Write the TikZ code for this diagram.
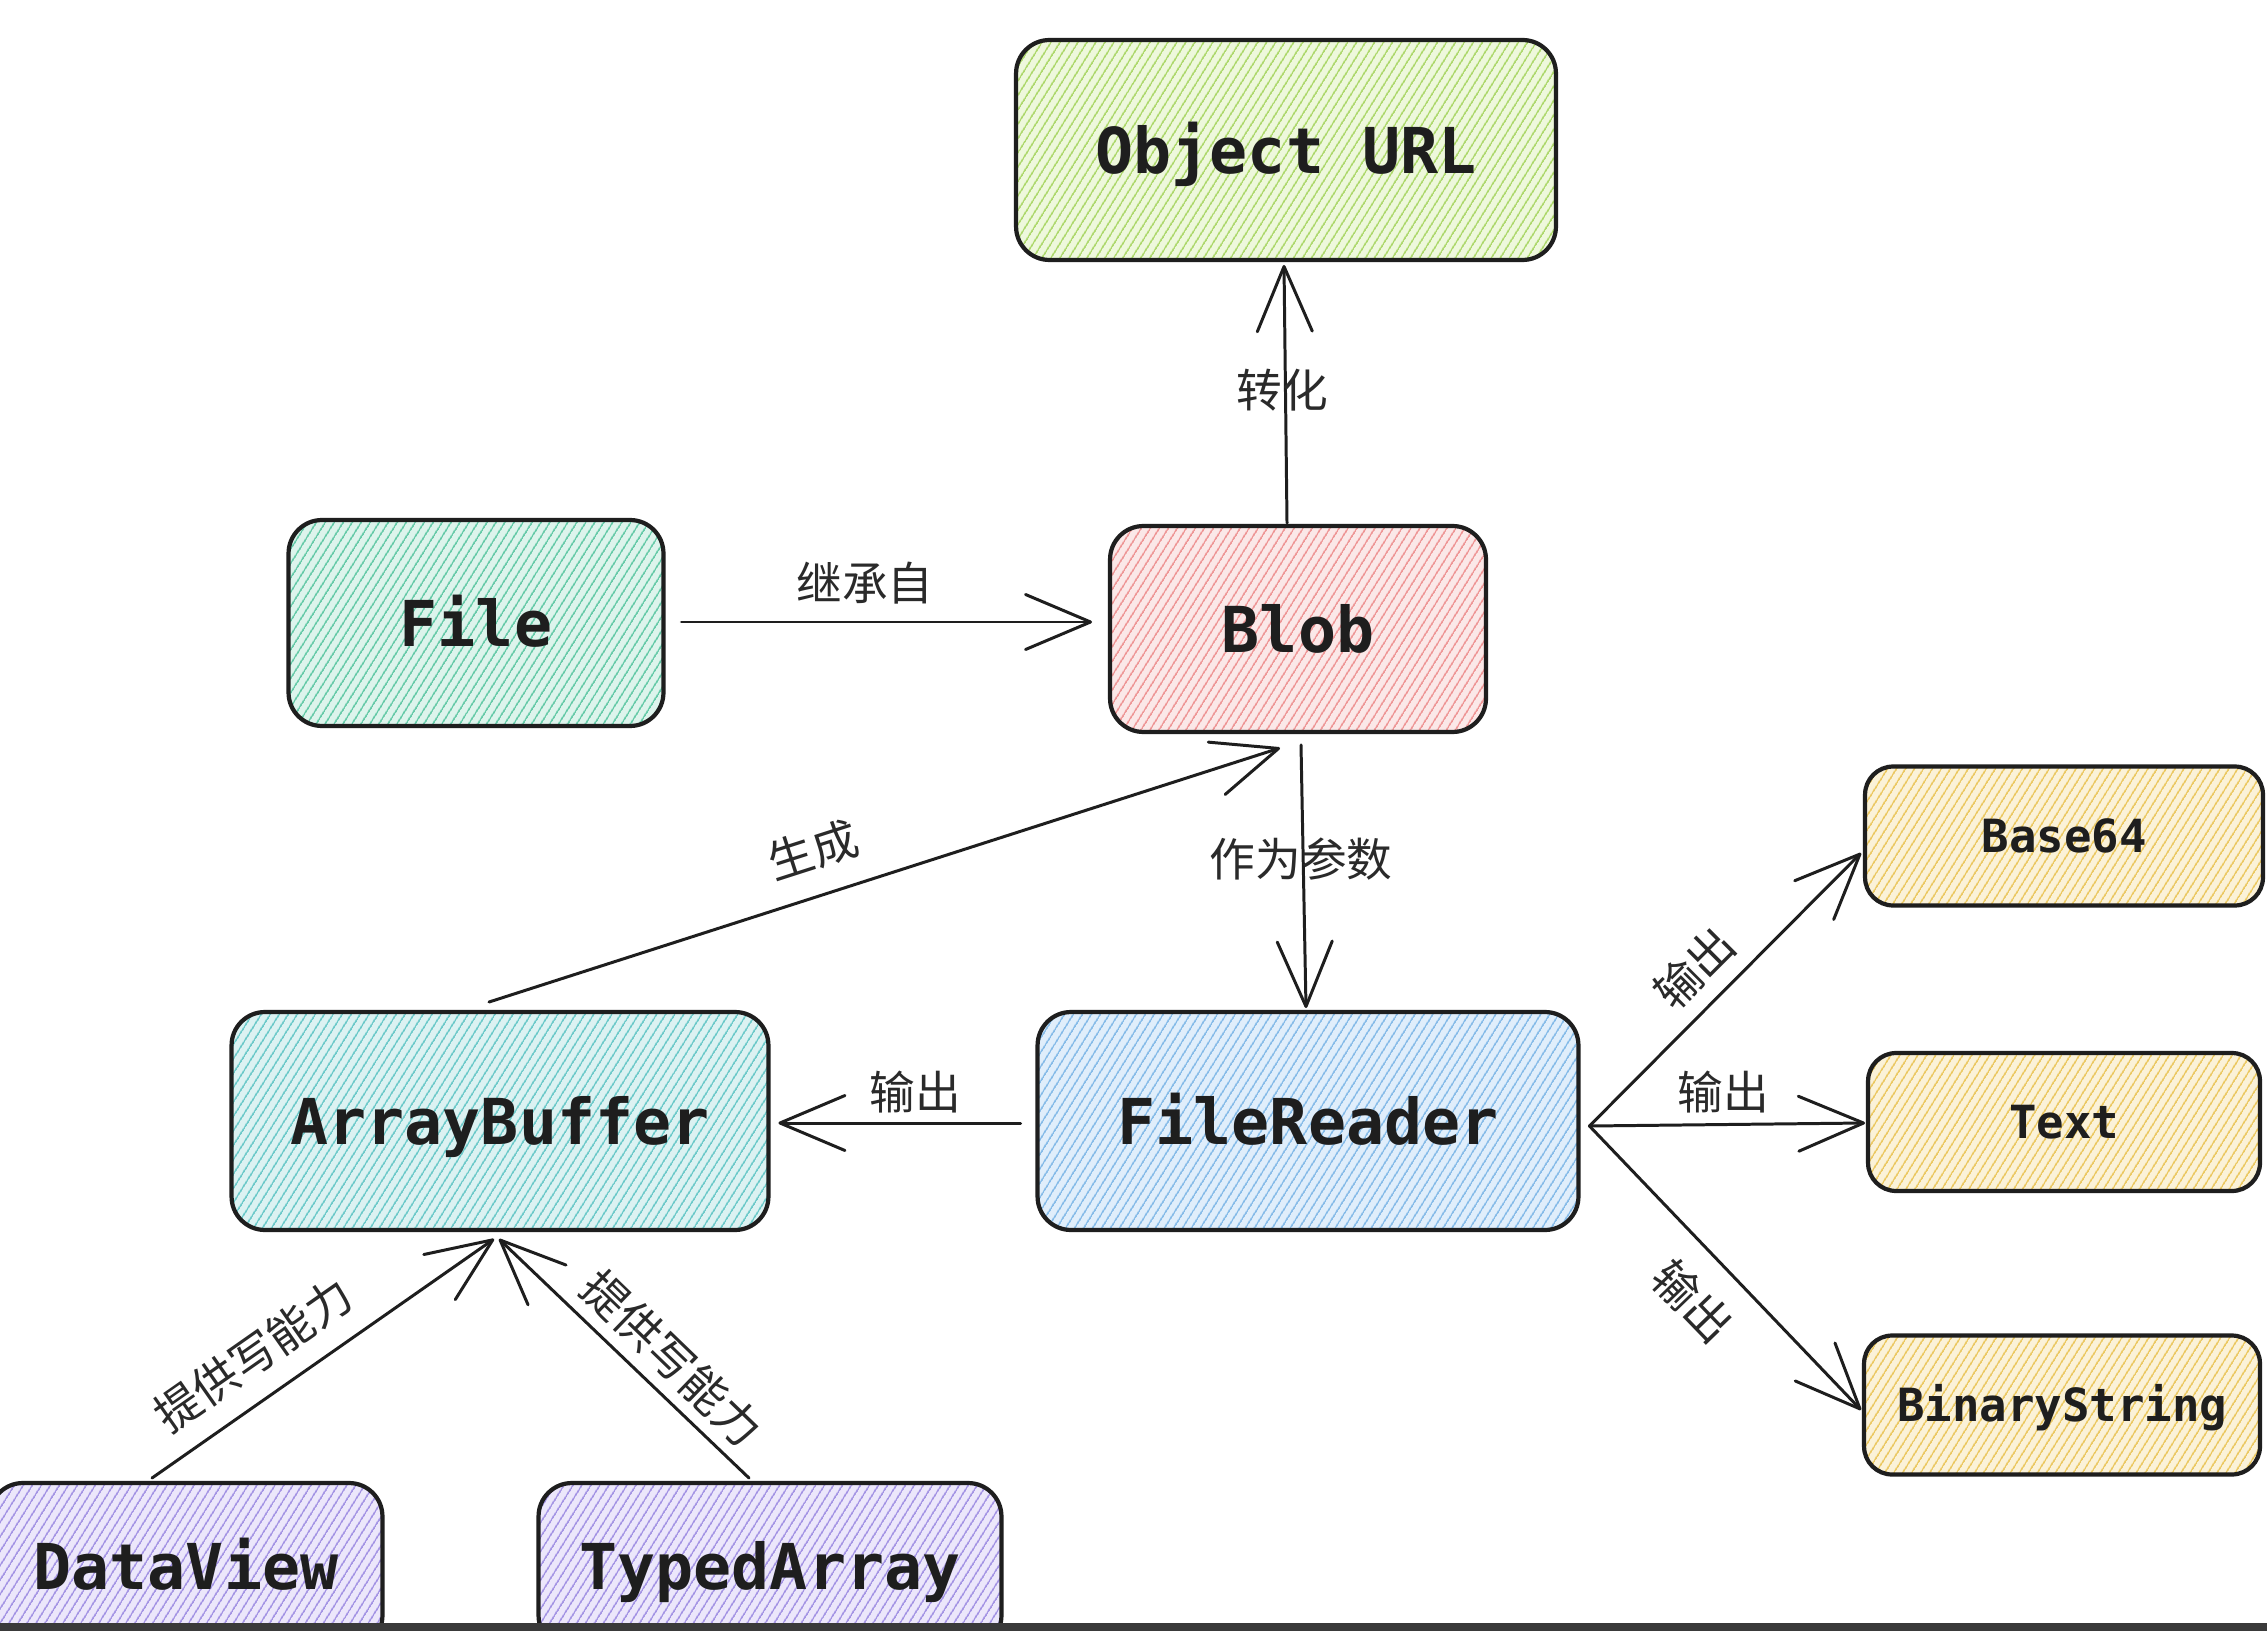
\documentclass[tikz,border=0pt]{standalone}
\usepackage{fontspec}
\newfontfamily\cjk{Noto Sans CJK SC}
\newfontfamily\monob{DejaVu Sans Mono Bold}
\usetikzlibrary{arrows.meta,patterns.meta,calc}
\definecolor{ink}{HTML}{1E1E1E}
\definecolor{labc}{HTML}{2A2A2A}
\definecolor{gpale}{HTML}{EEF8DC}\definecolor{gline}{HTML}{ADD86C}
\definecolor{tpale}{HTML}{DDF4EC}\definecolor{tline}{HTML}{66CAA8}
\definecolor{ppale}{HTML}{FBE8E8}\definecolor{pline}{HTML}{EE9696}
\definecolor{cpale}{HTML}{DCF2F2}\definecolor{cline}{HTML}{6CC9C9}
\definecolor{bpale}{HTML}{E0EEFB}\definecolor{bline}{HTML}{86BBE8}
\definecolor{ypale}{HTML}{FBF2D8}\definecolor{yline}{HTML}{EBC862}
\definecolor{vpale}{HTML}{ECE7FB}\definecolor{vline}{HTML}{A494E4}
\definecolor{strip}{HTML}{3A3A3A}
\tikzset{
  box/.style 2 args={draw=ink, line width=2.4pt, rounded corners=19pt,
    preaction={fill=#1},
    pattern={Lines[angle=58,distance=4pt,line width=0.9pt]}, pattern color=#2,
    inner sep=0pt, outer sep=0pt, text=ink},
  bigtxt/.style={font=\monob\fontsize{36}{40}\selectfont, text height=26.5pt, text depth=0pt},
  smalltxt/.style={font=\monob\fontsize{26}{30}\selectfont, text height=19pt, text depth=0pt},
  conn/.style={draw=ink, line width=1.7pt, line cap=round,
    -{Straight Barb[length=1.3cm,width=1.1cm,round]}},
  lab/.style={font=\cjk\fontsize{26}{30}\selectfont, text=labc, inner sep=0pt}
}
\begin{document}
\begin{tikzpicture}[x=0.02cm,y=-0.02cm]
\useasboundingbox (0,0) rectangle (2267,1631);
\fill[white] (0,0) rectangle (2267,1631);
\begin{scope}
\clip (0,0) rectangle (2267,1631);
% nodes
\node[box={gpale}{gline}, bigtxt, minimum width=10.8cm, minimum height=4.4cm] (ourl) at (1286,150) {Object URL};
\node[box={tpale}{tline}, bigtxt, minimum width=7.5cm, minimum height=4.12cm] (file) at (476,623) {File};
\node[box={ppale}{pline}, bigtxt, minimum width=7.52cm, minimum height=4.12cm] (blob) at (1298,629) {Blob};
\node[box={cpale}{cline}, bigtxt, minimum width=10.74cm, minimum height=4.36cm] (ab) at (500,1121) {ArrayBuffer};
\node[box={bpale}{bline}, bigtxt, minimum width=10.82cm, minimum height=4.36cm] (fr) at (1308,1121) {FileReader};
\node[box={ypale}{yline}, smalltxt, rounded corners=16pt, minimum width=7.96cm, minimum height=2.78cm] (b64) at (2064,836) {Base64};
\node[box={ypale}{yline}, smalltxt, rounded corners=16pt, minimum width=7.84cm, minimum height=2.76cm] (txt) at (2064,1122) {Text};
\node[box={ypale}{yline}, smalltxt, rounded corners=16pt, minimum width=7.92cm, minimum height=2.78cm] (bs) at (2062,1405) {BinaryString};
\node[box={vpale}{vline}, bigtxt, minimum width=7.86cm, minimum height=3.32cm] (dv) at (186,1566) {DataView};
\node[box={vpale}{vline}, bigtxt, minimum width=9.26cm, minimum height=3.32cm] (ta) at (770,1566) {TypedArray};
% connectors
\draw[conn] ($(blob.north)+(-11,-3)$) -- ($(ourl.south)+(-2,5)$);
\draw[conn] ($(file.east)+(18,-1)$) -- ($(blob.west)+(-18,-7)$);
\draw[conn] ($(ab.north)+(-11,-10)$) -- ($(blob.south)+(-18,16)$);
\draw[conn] ($(blob.south)+(3,13)$) -- ($(fr.north)+(-2,-4)$);
\draw[conn] ($(fr.west)+(-17,2)$) -- ($(ab.east)+(10,2)$);
\coordinate (fo) at ($(fr.east)+(11,5)$);
\draw[conn] (fo) -- ($(b64.west)+(-4,17)$);
\draw[conn] (fo) -- ($(txt.west)+(-3,1)$);
\draw[conn] (fo) -- ($(bs.west)+(-3,5)$);
\draw[conn] ($(dv.north)+(-34,-5)$) -- ($(ab.south)+(-6,9)$);
\draw[conn] ($(ta.north)+(-21,-5)$) -- ($(ab.south)+(-1,9)$);
% labels
\node[lab] (l1) at (1282,390) {转化};
\node[lab] (l2) at (865,583) {继承自};
\node[lab, rotate=17.8] (l3) at (813,850) {生成};
\node[lab] (l4) at (1301,859) {作为参数};
\node[lab] (l5) at (915,1092) {输出};
\node[lab, rotate=45] (l6) at (1694,968) {输出};
\node[lab] (l7) at (1723,1092) {输出};
\node[lab, rotate=-46] (l8) at (1693,1301) {输出};
\node[lab, rotate=35] (l9) at (253,1355) {提供写能力};
\node[lab, rotate=-44] (l10) at (672,1358) {提供写能力};
\fill[strip] (0,1623) rectangle (2267,1631);
\end{scope}
\end{tikzpicture}
\end{document}
